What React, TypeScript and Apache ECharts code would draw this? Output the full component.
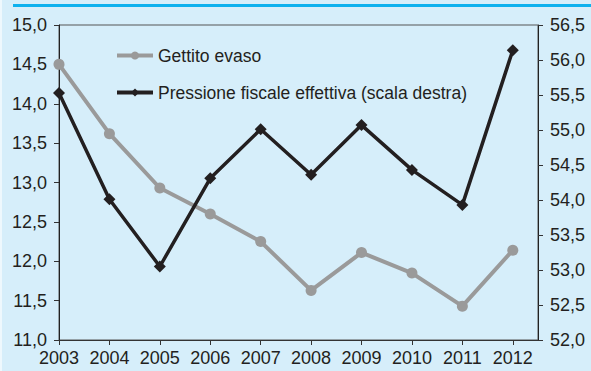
import React, { useEffect, useRef } from "react";
import * as echarts from "echarts";

const years = [2003, 2004, 2005, 2006, 2007, 2008, 2009, 2010, 2011, 2012];
const gettitoEvaso = [14.5, 13.62, 12.93, 12.6, 12.25, 11.63, 12.11, 11.85, 11.43, 12.14];
const pressioneFiscale = [55.53, 54.01, 53.05, 54.31, 55.01, 54.36, 55.07, 54.43, 53.93, 56.14];
const seriesNames = ["Gettito evaso", "Pressione fiscale effettiva (scala destra)"];

const FONT = "'Liberation Sans', Arial, Helvetica, sans-serif";
const TEXT = "#231f20";
const fmt = (v: number) => v.toFixed(1).replace(".", ",");

export default function App() {
  const ref = useRef<HTMLDivElement>(null);
  useEffect(() => {
    if (!ref.current) return;
    const chart = echarts.init(ref.current, undefined, { renderer: "svg" });
    chart.setOption({
      animation: false,
      backgroundColor: "#d6eefa",
      textStyle: { fontFamily: FONT, color: TEXT },
      graphic: [
        { type: "rect", shape: { x: 0, y: 0, width: 2, height: 371 }, style: { fill: "#eef8fd" } },
        { type: "rect", shape: { x: 13, y: 4, width: 578, height: 3 }, style: { fill: "#0db1ee" } },
      ],
      grid: {
        left: 59,
        right: 53,
        top: 25,
        bottom: 31,
        show: true,
        borderColor: "#555",
        borderWidth: 1,
        backgroundColor: "transparent",
      },
      legend: {
        orient: "vertical",
        left: 110,
        top: 40,
        itemWidth: 36,
        itemHeight: 10,
        itemGap: 16,
        lineStyle: { width: 4 },
        textStyle: { fontFamily: FONT, fontSize: 17.5, color: TEXT, lineHeight: 21 },
        data: seriesNames,
      },
      xAxis: {
        type: "value",
        min: 2003,
        max: 2012.5,
        interval: 1,
        splitLine: { show: false },
        axisLine: { lineStyle: { color: "#333", width: 1 } },
        axisTick: { show: true, length: 5, lineStyle: { color: "#333" }, customValues: years },
        axisLabel: {
          fontFamily: FONT,
          fontSize: 18,
          color: TEXT,
          margin: 9,
          customValues: years,
          formatter: (v: number) => String(v),
        },
      },
      yAxis: [
        {
          type: "value",
          min: 11,
          max: 15,
          interval: 0.5,
          position: "left",
          splitLine: { show: false },
          axisLine: { show: true, lineStyle: { color: "#222", width: 1 } },
          axisTick: { show: true, length: 5, lineStyle: { color: "#333" } },
          axisLabel: { fontFamily: FONT, fontSize: 18, color: TEXT, margin: 12, formatter: fmt },
        },
        {
          type: "value",
          min: 52,
          max: 56.5,
          interval: 0.5,
          position: "right",
          splitLine: { show: false },
          axisLine: { show: true, lineStyle: { color: "#222", width: 1 } },
          axisTick: { show: true, length: 5, lineStyle: { color: "#333" } },
          axisLabel: { fontFamily: FONT, fontSize: 18, color: TEXT, margin: 12, formatter: fmt },
        },
      ],
      series: [
        {
          name: seriesNames[0],
          type: "line",
          yAxisIndex: 0,
          data: years.map((y, i) => [y, gettitoEvaso[i]]),
          symbol: "circle",
          symbolSize: 11,
          color: "#9a9a9a",
          lineStyle: { width: 4, color: "#9a9a9a" },
          itemStyle: { color: "#9a9a9a" },
          z: 2,
        },
        {
          name: seriesNames[1],
          type: "line",
          yAxisIndex: 1,
          data: years.map((y, i) => [y, pressioneFiscale[i]]),
          symbol: "diamond",
          symbolSize: 12,
          color: "#231f20",
          lineStyle: { width: 3.5, color: "#231f20" },
          itemStyle: { color: "#231f20" },
          z: 3,
        },
      ],
    });
    return () => chart.dispose();
  }, []);
  return (
    <div
      ref={ref}
      style={{ position: "fixed", left: 0, top: 0, width: 591, height: 371 }}
    />
  );
}
